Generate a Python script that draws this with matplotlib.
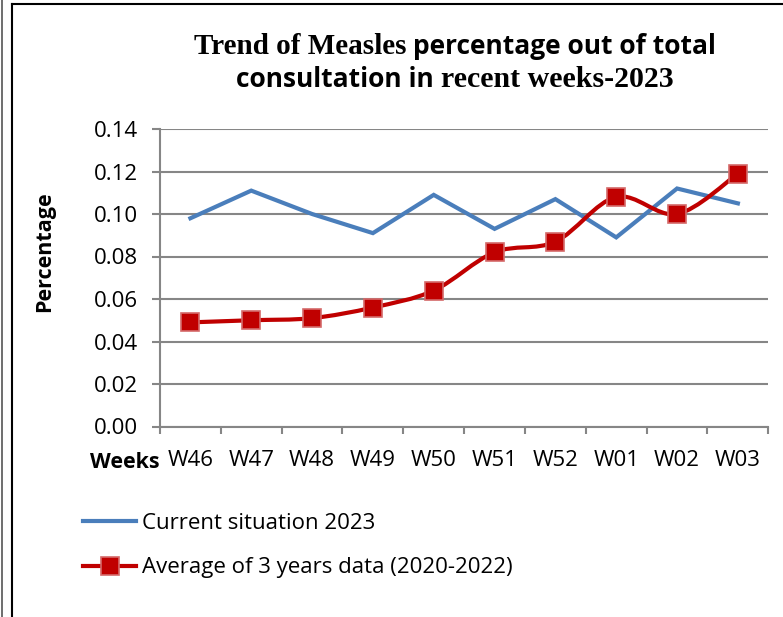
import numpy as np
import matplotlib
matplotlib.use("Agg")
import matplotlib.pyplot as plt
from matplotlib.path import Path
from matplotlib.patches import PathPatch
from matplotlib.lines import Line2D

weeks = ["W46", "W47", "W48", "W49", "W50", "W51", "W52", "W01", "W02", "W03"]
current_2023 = [0.098, 0.111, 0.100, 0.091, 0.109, 0.093, 0.107, 0.089, 0.112, 0.105]
avg_3_years = [0.049, 0.050, 0.051, 0.056, 0.064, 0.082, 0.087, 0.108, 0.100, 0.119]
y_ticks = [0.00, 0.02, 0.04, 0.06, 0.08, 0.10, 0.12, 0.14]

BLUE = "#4A7EBB"
RED = "#C00000"
GRID = "#868686"
SANS = "Open Sans"
SERIF = "Liberation Serif"
W, H = 783, 617


def smooth_path(xs, ys):
    # Excel-style smoothed line: cubic bezier between points
    pts = np.column_stack([xs, ys]).astype(float)
    n = len(pts)
    verts = [pts[0]]
    codes = [Path.MOVETO]
    for i in range(n - 1):
        p0 = pts[max(i - 1, 0)]
        p1 = pts[i]
        p2 = pts[i + 1]
        p3 = pts[min(i + 2, n - 1)]
        c1 = p1 + (p2 - p0) / 6.0
        c2 = p2 - (p3 - p1) / 6.0
        verts += [c1, c2, p2]
        codes += [Path.CURVE4] * 3
    return Path(verts, codes)


def main():
    fig = plt.figure(figsize=(W / 100, H / 100), dpi=100)
    ax = fig.add_axes([160 / W, 1 - 426.5 / H, (768.3 - 160) / W, (426.5 - 129) / H])

    x = np.arange(len(weeks))
    ax.plot(x, current_2023, color=BLUE, lw=3, solid_joinstyle="miter", zorder=3)
    ax.add_patch(PathPatch(smooth_path(x, avg_3_years), facecolor="none",
                           edgecolor=RED, lw=3, zorder=4))
    ax.plot(x, avg_3_years, ls="none", marker="s", ms=12.5, mfc=RED,
            mec="#D46A6A", mew=1.2, zorder=5)

    ax.set_xlim(-0.5, len(weeks) - 0.5)
    ax.set_ylim(0, 0.14)
    ax.set_yticks(y_ticks)
    ax.set_yticklabels([f"{v:.2f}" for v in y_ticks])
    ax.yaxis.grid(True, color=GRID, lw=1.5)
    ax.set_axisbelow(True)

    ax.set_xticks(x)
    ax.set_xticklabels(weeks)
    ax.set_xticks(np.arange(-0.5, len(weeks), 1.0), minor=True)
    ax.tick_params(axis="x", which="major", length=0, pad=17)
    ax.tick_params(axis="x", which="minor", length=5, width=1.5, color=GRID)
    ax.tick_params(axis="y", length=6, width=1.5, color=GRID, pad=10)
    for lab in ax.get_xticklabels() + ax.get_yticklabels():
        lab.set_fontfamily(SANS)
        lab.set_fontsize(16)

    for s in ["top", "right"]:
        ax.spines[s].set_visible(False)
    for s in ["left", "bottom"]:
        ax.spines[s].set_color(GRID)
        ax.spines[s].set_linewidth(1.5)

    fig.text(160 / W, 1 - 462 / H, "Weeks", ha="right", va="center",
             family=SANS, weight="bold", fontsize=15.5)
    fig.text(45 / W, 1 - 252 / H, "Percentage", rotation=90, ha="center",
             va="center", family=SANS, weight="bold", fontsize=15.5)

    # legend
    handles = [Line2D([], [], color=BLUE, lw=3),
               Line2D([], [], color=RED, lw=3, marker="s", ms=12.5, mfc=RED,
                      mec="#D46A6A", mew=1.2)]
    fig.legend(handles, ["Current situation 2023", "Average of 3 years data (2020-2022)"],
               loc="upper left", bbox_to_anchor=(83 / W, 1 - 513 / H),
               frameon=False, prop={"family": SANS, "size": 16},
               handlelength=2.4, handletextpad=0.25, labelspacing=1.05,
               borderpad=0, borderaxespad=0)

    # title with mixed fonts
    lines = [
        (54, [("Trend of Measles ", SERIF, 21), ("percentage out of total", SANS, 19)]),
        (87, [("consultation in ", SANS, 19), ("recent weeks-2023", SERIF, 21.5)]),
    ]
    fig.canvas.draw()
    renderer = fig.canvas.get_renderer()
    for ybase, parts in lines:
        texts = []
        for s, fam, size in parts:
            texts.append(fig.text(0, 1 - ybase / H, s, family=fam, weight="bold",
                                  fontsize=size, ha="left", va="baseline"))
        widths = [t.get_window_extent(renderer).width for t in texts]
        left = 455 - sum(widths) / 2
        for t, w in zip(texts, widths):
            t.set_x(left / W)
            left += w

    # page border lines
    fig.add_artist(Line2D([2 / W, 2 / W], [0, 1], color="#555555", lw=1.2))
    fig.add_artist(Line2D([12 / W, 12 / W], [0, 1 - 4 / H], color="black", lw=1.5))
    fig.add_artist(Line2D([12 / W, 1], [1 - 4 / H, 1 - 4 / H], color="black", lw=1.5))

    fig.savefig("out.png", dpi=100)
    plt.close(fig)


if __name__ == "__main__":
    main()
